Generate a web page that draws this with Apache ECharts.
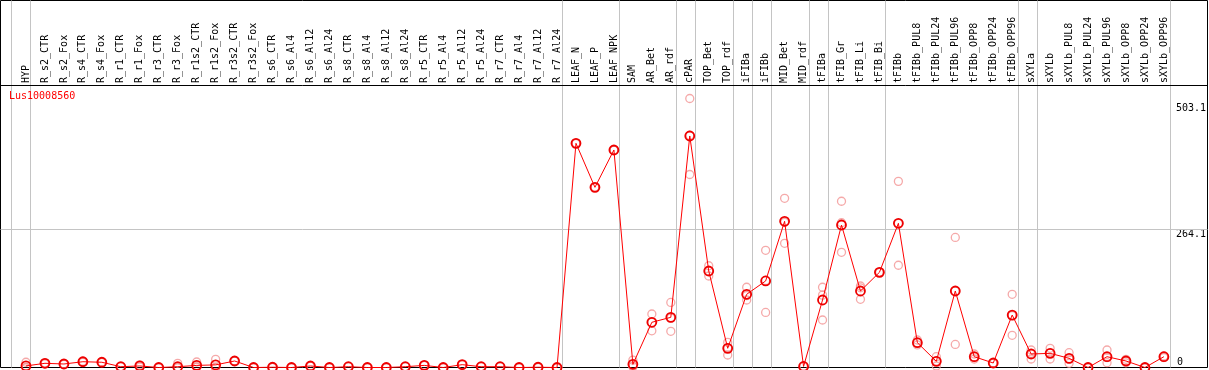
<!DOCTYPE html>
<html>
<head>
<meta charset="utf-8">
<script src="https://cdn.jsdelivr.net/npm/echarts@6/dist/echarts.min.js"></script>
<style>
html,body{margin:0;padding:0;background:#fff;}
#chart{width:1209px;height:370px;}
</style>
</head>
<body>
<div id="chart"></div>
<script>
const geneId = 'Lus10008560';
const categories = ['HYP','R_s2_CTR','R_s2_Fox','R_s4_CTR','R_s4_Fox','R_r1_CTR','R_r1_Fox','R_r3_CTR','R_r3_Fox','R_r1s2_CTR','R_r1s2_Fox','R_r3s2_CTR','R_r3s2_Fox','R_s6_CTR','R_s6_Al4','R_s6_Al12','R_s6_Al24','R_s8_CTR','R_s8_Al4','R_s8_Al12','R_s8_Al24','R_r5_CTR','R_r5_Al4','R_r5_Al12','R_r5_Al24','R_r7_CTR','R_r7_Al4','R_r7_Al12','R_r7_Al24','LEAF_N','LEAF_P','LEAF_NPK','SAM','AR_Bet','AR_rdf','cPAR','TOP_Bet','TOP_rdf','iFIBa','iFIBb','MID_Bet','MID_rdf','tFIBa','tFIB_Gr','tFIB_Li','tFIB_Bi','tFIBb','tFIBb_PUL8','tFIBb_PUL24','tFIBb_PUL96','tFIBb_OPP8','tFIBb_OPP24','tFIBb_OPP96','sXYLa','sXYLb','sXYLb_PUL8','sXYLb_PUL24','sXYLb_PUL96','sXYLb_OPP8','sXYLb_OPP24','sXYLb_OPP96'];
const meanValues = [3,8,6.7,11,10,1.5,3,0,1.5,4,5,12.4,0,0.5,0,2.9,0,1.5,0,0,1.5,4,0,5.4,1.5,1.5,0,0.5,0,427.5,343.6,414.8,6.1,86.2,95.7,441.5,184,36.6,139.6,165,278.8,2,128.7,271.7,145.9,181.5,275,47.3,11.8,145.9,20.6,8.6,100,25.7,27,17.5,0,20.6,12.4,0,20.6];
const rep1 = [10,9,7,12,10,1.5,5,0,8,10.5,15.6,13,0,0.5,0,2.9,0,1.5,0,0,1.5,4,0,5.4,1.5,1.5,0,0.5,0,427.5,343.6,414.8,14,102,124,513,194,48,153,223.5,322.6,2,153,317,155.4,181.5,355,52.4,20.6,248,25.7,8.6,139.6,33.4,36.6,28.2,0,33.4,15.6,0,22];
const rep2 = [0,8,6,10,10,1.5,3,0,0,1,0,12,0,0.5,0,2.9,0,1.5,0,0,1.5,4,0,5.4,1.5,1.5,0,0.5,0,427.5,343.6,414.8,1.5,70,69,368,174.5,23.8,128.7,105,236.8,2,138,276,130,181.5,195,43,2.9,44,16.2,8.6,61.4,16.2,16.2,8,0,9.2,9,0,19];
const rep3 = [0,7,7,11,10,1.5,1,0,0,1,0,12,0,0.5,0,2.9,0,1.5,0,0,1.5,4,0,5.4,1.5,1.5,0,0.5,0,427.5,343.6,414.8,3,86,94,443,184,38,137,166,277,2,90.6,219.7,152,181.5,275,47,12,146,20,8.6,99,27,28,16,0,19,12,0,20];
const yLabelsTop = [264.1, 503.1];
const yLabelsBottom = [0];
const groupEnds = [-1,0,28,31,34,35,37,38,39,41,42,45,52,53,60];

// layout
const band = 19, leftA = 16.5, topA = 85, bottomPx = 367.5, pxPerUnit = 0.5244;
const n = categories.length;
const heightA = bottomPx - topA;
const yMax = heightA / pxPerUnit;
const leftB = 0.5, topB = 0.5, rightB = 1207.5;
const yMaxB = (bottomPx - topB) / pxPerUnit;
const xMinB = (leftB - leftA) / band - 0.5;
const xMaxB = (rightB - leftA) / band - 0.5;
const font = 'DejaVu Sans Mono';
const gray = '#c4c4c4';

const repColor = '#f29494';
function repSeries(arr){
  return {
    type:'scatter', xAxisIndex:0, yAxisIndex:0, data: arr.map((v,i)=>[i,v]),
    symbol:'circle', symbolSize:8, clip:false, z:3,
    itemStyle:{color:'transparent', borderColor:repColor, borderWidth:1.3},
    emphasis:{disabled:true}
  };
}

const markLines = groupEnds.map(g => ({xAxis: g + 0.24, lineStyle:{color:gray, width:1, type:'solid'}}));
markLines.push({yAxis: 264.1, lineStyle:{color:gray, width:1, type:'solid'}});
markLines.push({yAxis: yMax, lineStyle:{color:'#000', width:1, type:'solid'}});

const chart = echarts.init(document.getElementById('chart'), null, {renderer:'canvas'});
chart.setOption({
  animation:false,
  backgroundColor:'#fff',
  title:{text:geneId, left:9, top:91, padding:0, textStyle:{color:'#ff0000', fontSize:10, fontWeight:'normal', fontFamily:font}},
  grid:[
    {left:leftA, top:topA, width:n*band, height:heightA, show:false},
    {left:leftB, top:topB, width:rightB-leftB, height:bottomPx-topB, show:true, borderColor:'#000', borderWidth:1, backgroundColor:'transparent'}
  ],
  xAxis:[
    {type:'category', gridIndex:0, position:'top', data:categories, boundaryGap:true,
     axisLine:{show:false}, axisTick:{show:false}, splitLine:{show:false},
     axisLabel:{interval:0, rotate:90, margin:2, color:'#000', fontSize:10, fontFamily:font}},
    {type:'value', gridIndex:1, min:xMinB, max:xMaxB, show:false}
  ],
  yAxis:[
    {type:'value', gridIndex:0, min:0, max:yMax, position:'right',
     axisLine:{show:false}, axisTick:{show:false}, splitLine:{show:false},
     axisLabel:{customValues:yLabelsTop, margin:2.5, verticalAlign:'top', color:'#000', fontSize:10, fontFamily:font}},
    {type:'value', gridIndex:0, min:0, max:yMax, position:'right',
     axisLine:{show:false}, axisTick:{show:false}, splitLine:{show:false},
     axisLabel:{customValues:yLabelsBottom, margin:3.5, verticalAlign:'bottom', color:'#000', fontSize:10, fontFamily:font}},
    {type:'value', gridIndex:1, min:0, max:yMaxB, show:false}
  ],
  series:[
    {type:'line', xAxisIndex:1, yAxisIndex:2, data:[], z:1, silent:true,
     markLine:{symbol:'none', silent:true, label:{show:false}, animation:false, data:markLines}},
    repSeries(rep1), repSeries(rep2), repSeries(rep3),
    {type:'line', xAxisIndex:0, yAxisIndex:0, data:meanValues, clip:false, z:5,
     symbol:'circle', symbolSize:9, showAllSymbol:true,
     lineStyle:{color:'#ff0000', width:1},
     itemStyle:{color:'transparent', borderColor:'#ee0000', borderWidth:1.8},
     emphasis:{disabled:true}}
  ]
});
</script>
</body>
</html>
